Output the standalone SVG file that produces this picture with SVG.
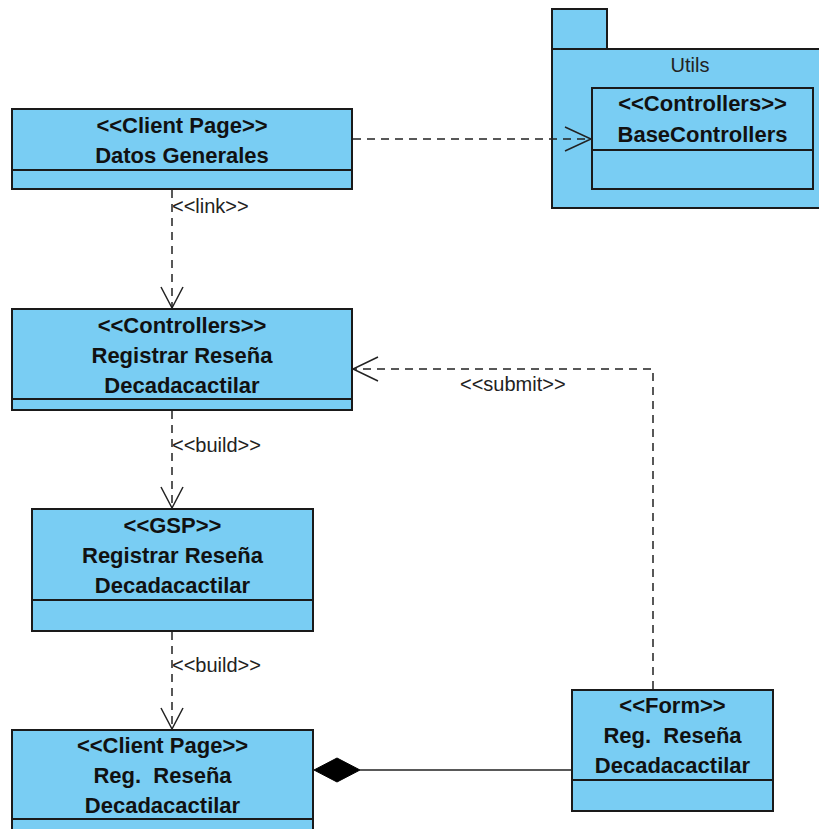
<svg xmlns="http://www.w3.org/2000/svg" width="819" height="829" viewBox="0 0 819 829">
<style>
.box{fill:#79CDF3;stroke:#1a1a1a;stroke-width:2}
.div{stroke:#1a1a1a;stroke-width:2;fill:none}
.t{font-family:"Liberation Sans",Arial,sans-serif;font-weight:bold;font-size:22px;fill:#111;text-anchor:middle;white-space:pre}
.lbl{font-family:"Liberation Sans",Arial,sans-serif;font-size:20px;fill:#222}
.dash{stroke:#222;stroke-width:1.5;stroke-dasharray:8 6;fill:none}
.solid{stroke:#222;stroke-width:1.5;fill:none}
.head{stroke:#222;stroke-width:1.5;fill:none}
</style>
<rect width="819" height="829" fill="#fff"/>
<g id="utils">
<rect class="box" x="552" y="9" width="55" height="40"/>
<rect class="box" x="552" y="49" width="276" height="159"/>
<text class="lbl" x="690" y="72" text-anchor="middle">Utils</text>
</g>
<g id="baseControllers">
<rect class="box" x="592" y="88" width="221" height="101"/>
<line class="div" x1="592" y1="150" x2="813" y2="150"/>
<text class="t" x="702.5" y="111">&lt;&lt;Controllers&gt;&gt;</text>
<text class="t" x="702.5" y="142">BaseControllers</text>
</g>
<g id="datosGenerales">
<rect class="box" x="12" y="109" width="340" height="80"/>
<line class="div" x1="12" y1="170" x2="352" y2="170"/>
<text class="t" x="182" y="133">&lt;&lt;Client Page&gt;&gt;</text>
<text class="t" x="182" y="163">Datos Generales</text>
</g>
<g id="controllersRegistrar">
<rect class="box" x="12" y="309" width="340" height="101"/>
<line class="div" x1="12" y1="399" x2="352" y2="399"/>
<text class="t" x="182" y="333">&lt;&lt;Controllers&gt;&gt;</text>
<text class="t" x="182" y="363">Registrar Reseña</text>
<text class="t" x="182" y="393">Decadacactilar</text>
</g>
<g id="gspRegistrar">
<rect class="box" x="32" y="509" width="281" height="122"/>
<line class="div" x1="32" y1="600" x2="313" y2="600"/>
<text class="t" x="172.5" y="533">&lt;&lt;GSP&gt;&gt;</text>
<text class="t" x="172.5" y="563">Registrar Reseña</text>
<text class="t" x="172.5" y="593">Decadacactilar</text>
</g>
<g id="clientPageReg">
<rect class="box" x="12" y="730" width="301" height="110"/>
<line class="div" x1="12" y1="819" x2="313" y2="819"/>
<text class="t" x="162.5" y="753">&lt;&lt;Client Page&gt;&gt;</text>
<text class="t" x="162.5" y="783">Reg.  Reseña</text>
<text class="t" x="162.5" y="813">Decadacactilar</text>
</g>
<g id="formReg">
<rect class="box" x="572" y="690" width="201" height="121"/>
<line class="div" x1="572" y1="780" x2="773" y2="780"/>
<text class="t" x="672.5" y="713">&lt;&lt;Form&gt;&gt;</text>
<text class="t" x="672.5" y="743">Reg.  Reseña</text>
<text class="t" x="672.5" y="773">Decadacactilar</text>
</g>
<g id="connectors">
<line class="dash" x1="353" y1="139" x2="591" y2="139"/>
<polyline class="head" points="565,127 591,139 565,151"/>
<line class="dash" x1="172" y1="190" x2="172" y2="308"/>
<polyline class="head" points="161,287 172,308 183,287"/>
<text class="lbl" x="172" y="213">&lt;&lt;link&gt;&gt;</text>
<line class="dash" x1="172" y1="411" x2="172" y2="508"/>
<polyline class="head" points="161,487 172,508 183,487"/>
<text class="lbl" x="172" y="452">&lt;&lt;build&gt;&gt;</text>
<line class="dash" x1="172" y1="632" x2="172" y2="729"/>
<polyline class="head" points="161,708 172,729 183,708"/>
<text class="lbl" x="172" y="672">&lt;&lt;build&gt;&gt;</text>
<polyline class="dash" points="653,689 653,369 353,369"/>
<polyline class="head" points="378,357 353,369 378,381"/>
<text class="lbl" x="460" y="391">&lt;&lt;submit&gt;&gt;</text>
<line class="solid" x1="360" y1="770" x2="571" y2="770"/>
<polygon points="314,770 337,758 360,770 337,782" fill="#000" stroke="#000" stroke-width="1"/>
</g>
</svg>
